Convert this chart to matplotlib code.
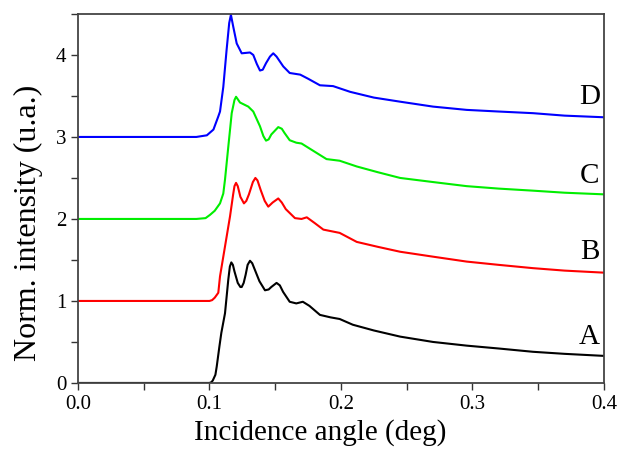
import matplotlib
matplotlib.use('Agg')
import matplotlib.pyplot as plt
from matplotlib.ticker import MultipleLocator

# Reflectivity-like scans for four samples, stacked with an offset of 1
angle_a = [0, 0.095, 0.1, 0.1015, 0.1025, 0.1045, 0.1055, 0.1075, 0.109, 0.1118, 0.1143,
           0.1155, 0.1166, 0.1178, 0.119, 0.1215, 0.1235, 0.1245, 0.126, 0.1275, 0.129,
           0.1308, 0.1325, 0.134, 0.138, 0.1422, 0.145, 0.147, 0.151, 0.1535, 0.156,
           0.161, 0.166, 0.171, 0.176, 0.184, 0.192, 0.199, 0.209, 0.225, 0.245, 0.27,
           0.2956, 0.32, 0.346, 0.37, 0.4]
int_a = [0, 0, 0.0, 0.01, 0.03, 0.10, 0.20, 0.44, 0.61, 0.85, 1.26,
         1.42, 1.47, 1.44, 1.36, 1.22, 1.17, 1.17, 1.22, 1.32, 1.44,
         1.49, 1.46, 1.40, 1.24, 1.13, 1.14, 1.17, 1.22, 1.19, 1.11,
         0.99, 0.97, 0.99, 0.94, 0.83, 0.80, 0.78, 0.71, 0.64, 0.565, 0.50,
         0.455, 0.42, 0.38, 0.355, 0.33]

angle_b = [0, 0.1, 0.102, 0.104, 0.1067, 0.108, 0.1105, 0.113, 0.1156, 0.118, 0.119,
           0.1202, 0.1215, 0.1235, 0.1262, 0.128, 0.130, 0.133, 0.1349, 0.1365, 0.139,
           0.142, 0.1447, 0.148, 0.1523, 0.155, 0.158, 0.165, 0.170, 0.174, 0.18, 0.1866,
           0.199, 0.212, 0.228, 0.245, 0.27, 0.2956, 0.32, 0.346, 0.37, 0.4]
int_b = [1, 1, 1.01, 1.04, 1.10, 1.30, 1.54, 1.78, 2.03, 2.30, 2.40,
         2.44, 2.40, 2.27, 2.19, 2.22, 2.30, 2.45, 2.50, 2.47, 2.35,
         2.22, 2.15, 2.20, 2.25, 2.20, 2.12, 2.01, 2.00, 2.02, 1.95, 1.87,
         1.83, 1.72, 1.66, 1.60, 1.54, 1.48, 1.44, 1.40, 1.37, 1.345]

angle_c = [0, 0.09, 0.097, 0.1004, 0.104, 0.108, 0.1105, 0.1118, 0.1143, 0.1169, 0.119,
           0.1202, 0.1215, 0.1232, 0.1295, 0.1333, 0.1384, 0.141, 0.143, 0.145, 0.147,
           0.1523, 0.155, 0.157, 0.161, 0.166, 0.170, 0.176, 0.189, 0.199, 0.212, 0.228,
           0.245, 0.27, 0.2956, 0.32, 0.346, 0.37, 0.4]
int_c = [2, 2, 2.01, 2.05, 2.10, 2.19, 2.31, 2.48, 2.88, 3.29, 3.45,
         3.49, 3.46, 3.42, 3.37, 3.31, 3.13, 3.01, 2.955, 2.97, 3.03,
         3.12, 3.10, 3.05, 2.96, 2.93, 2.92, 2.86, 2.73, 2.71, 2.64, 2.57,
         2.50, 2.45, 2.40, 2.37, 2.345, 2.32, 2.30]

angle_d = [0, 0.09, 0.098, 0.103, 0.1067, 0.108, 0.1105, 0.113, 0.115, 0.1163, 0.118,
           0.1207, 0.1245, 0.1308, 0.1333, 0.136, 0.1384, 0.1405, 0.143, 0.146, 0.1485,
           0.151, 0.1561, 0.161, 0.169, 0.175, 0.184, 0.194, 0.207, 0.225, 0.245, 0.27,
           0.2956, 0.32, 0.346, 0.37, 0.4]
int_d = [3, 3, 3.02, 3.09, 3.25, 3.31, 3.61, 4.06, 4.39, 4.49, 4.35,
         4.14, 4.02, 4.03, 4.00, 3.89, 3.81, 3.82, 3.90, 3.98, 4.02,
         3.98, 3.86, 3.78, 3.76, 3.71, 3.63, 3.62, 3.55, 3.48, 3.43, 3.37,
         3.33, 3.31, 3.29, 3.26, 3.24]

labels = ['A', 'B', 'C', 'D']
label_y = [0.565, 1.60, 2.52, 3.49]
colors = ['black', '#ff0000', '#00ee00', '#0000ff']

plt.rcParams['font.family'] = ['Liberation Serif', 'DejaVu Serif']

fig = plt.figure(figsize=(6.22, 4.5), dpi=100)
ax = fig.add_axes([0.1254, 0.149, 0.8456, 0.82])

curves = [(angle_a, int_a), (angle_b, int_b), (angle_c, int_c), (angle_d, int_d)]
for (x, y), c in zip(curves, colors):
    ax.plot(x, y, color=c, lw=1.5, solid_joinstyle='round')

for lab, ly in zip(labels, label_y):
    ax.text(0.389, ly, lab, fontsize=21, ha='center', va='center')

ax.set_xlim(0, 0.4)
ax.set_ylim(0, 4.5)
ax.xaxis.set_major_locator(MultipleLocator(0.1))
ax.xaxis.set_minor_locator(MultipleLocator(0.05))
ax.yaxis.set_major_locator(MultipleLocator(1))
ax.yaxis.set_minor_locator(MultipleLocator(0.5))
ax.xaxis.set_major_formatter(plt.FormatStrFormatter('%.1f'))
ax.tick_params(which='both', direction='out', length=5, width=1, labelsize=15, color='#333333')
ax.tick_params(top=False, right=False)
for s in ax.spines.values():
    s.set_linewidth(1.3)
    s.set_color('#444444')

ax.set_xlabel('Incidence angle (deg)', fontsize=21)
ax.xaxis.set_label_coords(0.46, -0.098, transform=ax.transAxes)
ax.xaxis.label.set_va('top')
ax.set_ylabel('Norm. intensity (u.a.)', fontsize=23)
ax.yaxis.set_label_coords(-0.066, 0.435, transform=ax.transAxes)

fig.savefig('out.png', dpi=100)
